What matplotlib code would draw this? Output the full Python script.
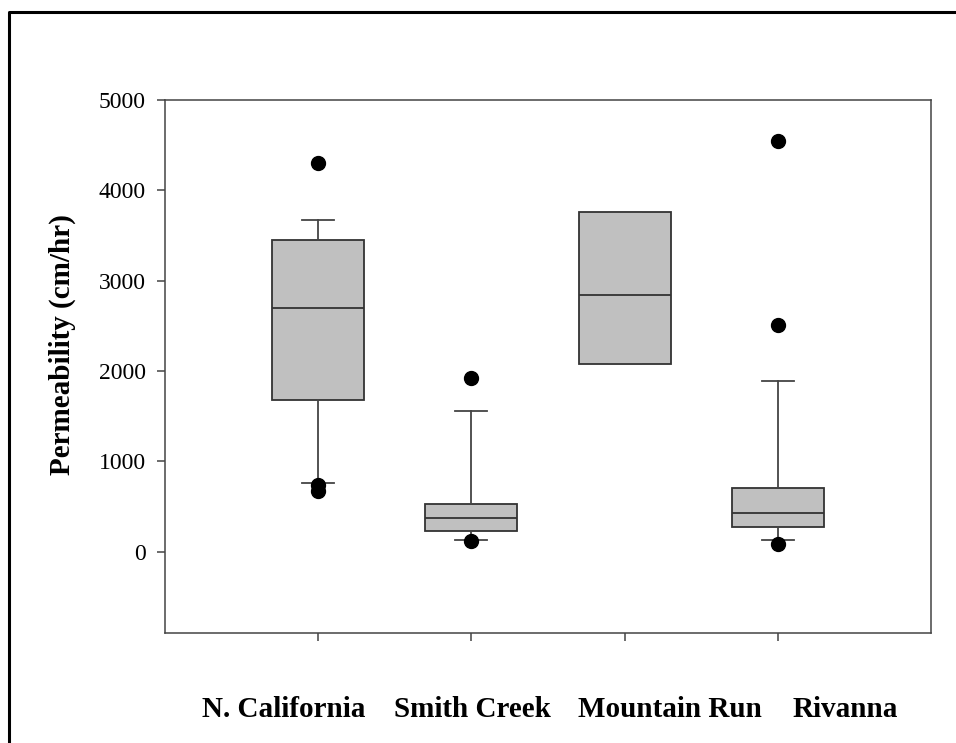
#!/usr/bin/env python3
"""Box plot of permeability by site, redrawn from a SigmaPlot figure."""

import matplotlib
matplotlib.use("Agg")
import matplotlib.pyplot as plt
from matplotlib.lines import Line2D

SITES = ["N. California", "Smith Creek", "Mountain Run", "Rivanna"]
POSITIONS = [1, 2, 3, 4]
MEDIANS = [2700, 375, 2845, 430]
Q1 = [1675, 230, 2075, 272]
Q3 = [3445, 530, 3760, 700]
WHISKER_LO = [755, 130, 2075, 130]
WHISKER_HI = [3675, 1560, 3760, 1890]
OUTLIERS = [[4300, 735, 670], [1925, 118], [], [4545, 2510, 82]]
Y_TICKS = [0, 1000, 2000, 3000, 4000, 5000]

W, H = 956, 743
FONT = "Liberation Serif"
EDGE = "#333333"


def main():
    fig = plt.figure(figsize=(W / 100, H / 100), dpi=100)
    fig.patch.set_facecolor("white")
    ax = fig.add_axes([165 / W, 1 - 633 / H, (931 - 165) / W, (633 - 100) / H])

    stats = []
    for i, name in enumerate(SITES):
        stats.append({
            "label": name,
            "med": MEDIANS[i],
            "q1": Q1[i],
            "q3": Q3[i],
            "whislo": WHISKER_LO[i],
            "whishi": WHISKER_HI[i],
            "fliers": OUTLIERS[i],
        })

    ax.bxp(
        stats,
        positions=POSITIONS,
        widths=0.6,
        capwidths=0.21,
        patch_artist=True,
        boxprops=dict(facecolor="#c0c0c0", edgecolor=EDGE, linewidth=1.3),
        medianprops=dict(color=EDGE, linewidth=1.3),
        whiskerprops=dict(color="#444444", linewidth=1.3),
        capprops=dict(color="#444444", linewidth=1.3),
        flierprops=dict(marker="o", markerfacecolor="black", markeredgecolor="black",
                        markersize=10, linestyle="none"),
    )

    ax.set_xlim(0, 5)
    ax.set_ylim(-900, 5000)
    ax.set_xticks(POSITIONS)
    ax.set_xticklabels([])
    ax.set_yticks(Y_TICKS)
    ax.set_yticklabels([str(t) for t in Y_TICKS], fontfamily=FONT, fontsize=17)
    ax.tick_params(axis="both", direction="out", length=6, width=1.1, color="#444444", pad=8)
    for sp in ax.spines.values():
        sp.set_color("#444444")
        sp.set_linewidth(1.1)

    fig.text(62 / W, 1 - 345 / H, "Permeability (cm/hr)", rotation=90, ha="center",
             va="center", fontfamily=FONT, fontweight="bold", fontsize=21)

    label_x = [284, 472, 670, 845]
    for x, name in zip(label_x, SITES):
        fig.text(x / W, 1 - 717 / H, name, ha="center", va="baseline",
                 fontfamily=FONT, fontweight="bold", fontsize=21)

    # outer frame (left and top edges only visible)
    fig.add_artist(Line2D([9 / W, 9 / W, 1.0], [0, 1 - 12 / H, 1 - 12 / H],
                          transform=fig.transFigure, color="black", linewidth=2.2))

    fig.savefig("out.png", dpi=100)
    plt.close(fig)


if __name__ == "__main__":
    main()
